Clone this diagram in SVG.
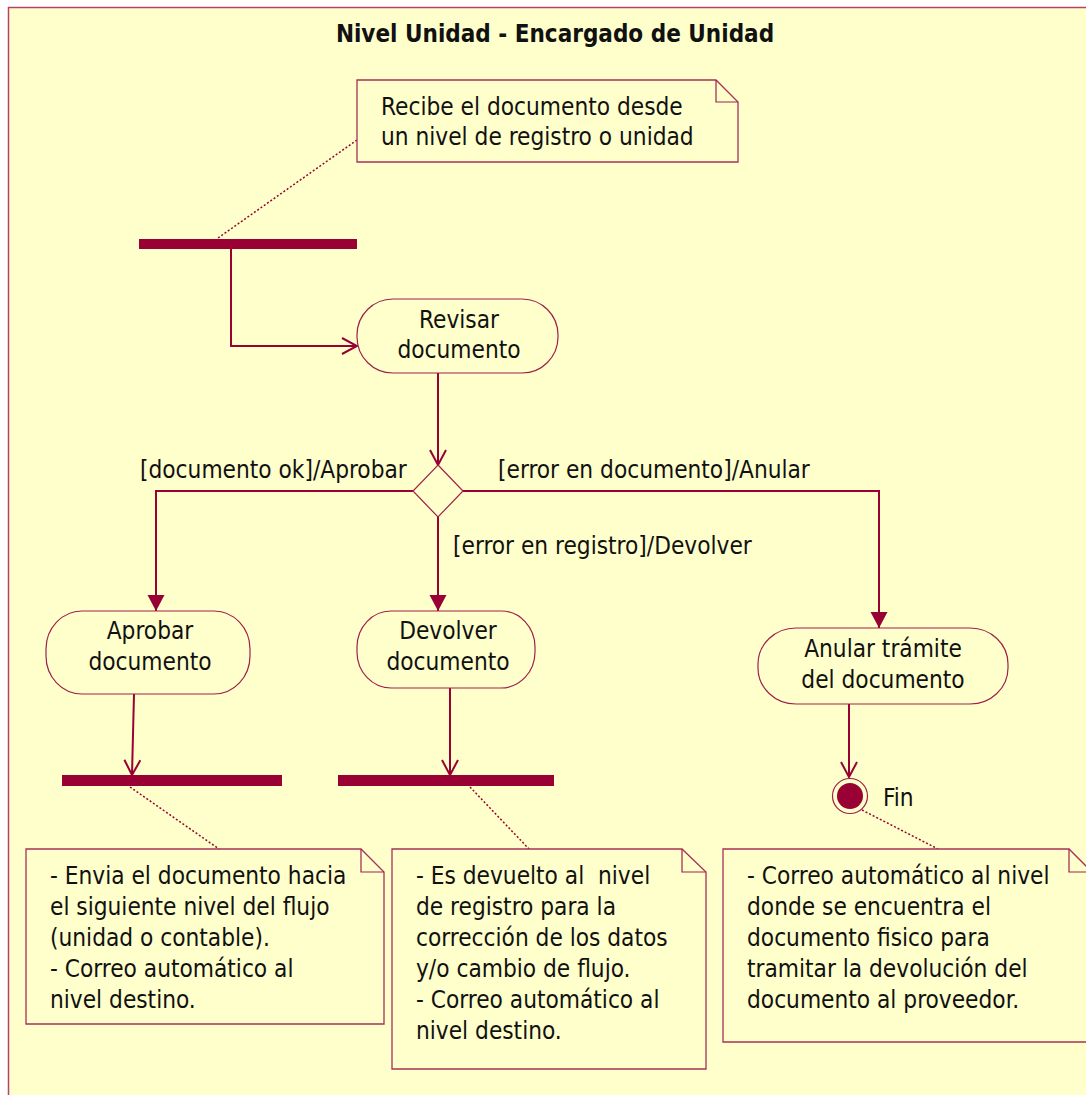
<svg xmlns="http://www.w3.org/2000/svg" width="1086" height="1095" viewBox="0 0 1086 1095">
  <defs>
    <style>
      text { font-family: "DejaVu Sans Condensed", "DejaVu Sans", sans-serif; font-stretch: condensed; font-size: 24.2px; fill: #111; }
      .title { font-weight: bold; font-size: 24px; text-anchor: middle; }
      .mid { text-anchor: middle; }
      .frame { fill: #FFFFCC; stroke: #B8406A; stroke-width: 1.5; }
      .node { fill: #FFFFCC; stroke: #A0204C; stroke-width: 1.2; }
      .note { fill: #FFFFCC; stroke: #A8305A; stroke-width: 1.3; }
      .fold { fill: none; stroke: #A0204C; stroke-width: 1.2; }
      .bar { fill: #990033; }
      .flow { fill: none; stroke: #990033; stroke-width: 2; }
      .link { fill: none; stroke: #990033; stroke-width: 1.5; stroke-dasharray: 2 2; }
    </style>
    <marker id="open" markerUnits="userSpaceOnUse" markerWidth="18" markerHeight="18" viewBox="0 0 18 18" refX="16" refY="9" orient="auto">
      <path d="M1,1 L16,9 L1,17" fill="none" stroke="#990033" stroke-width="2"/>
    </marker>
    <marker id="solid" markerUnits="userSpaceOnUse" markerWidth="18" markerHeight="18" viewBox="0 0 18 18" refX="17" refY="9" orient="auto">
      <path d="M1,0.5 L17,9 L1,17.5 Z" fill="#990033"/>
    </marker>
  </defs>

  <rect width="1086" height="1095" fill="#FFFFFF"/>
  <!-- swimlane frame -->
  <rect class="frame" x="8.5" y="7.5" width="1100" height="1110"/>
  <text class="title" x="555" y="42">Nivel Unidad - Encargado de Unidad</text>

  <!-- connectors -->
  <g id="connectors">
    <path class="flow" d="M231,249 V346 H357" marker-end="url(#open)"/>
    <path class="flow" d="M438,373 V465" marker-end="url(#open)"/>
    <path class="flow" d="M413,491 H156 V611" marker-end="url(#solid)"/>
    <path class="flow" d="M438,517 V611" marker-end="url(#solid)"/>
    <path class="flow" d="M463,491 H879 V628" marker-end="url(#solid)"/>
    <path class="flow" d="M134,694 L132,775" marker-end="url(#open)"/>
    <path class="flow" d="M450,688 V775" marker-end="url(#open)"/>
    <path class="flow" d="M849,704 V777" marker-end="url(#open)"/>
    <path class="link" d="M357,140 L218,238"/>
    <path class="link" d="M130,787 L219,849"/>
    <path class="link" d="M470,787 L529,849"/>
    <path class="link" d="M862,810 L938,849"/>
    <text x="140" y="478">[documento ok]/Aprobar</text>
    <text x="498" y="478">[error en documento]/Anular</text>
    <text x="453" y="554">[error en registro]/Devolver</text>
  </g>

  <g id="note-recibe">
    <path class="note" d="M357,80 H716 L738,102 V162 H357 Z"/>
    <path class="fold" d="M716,80 V102 H738"/>
    <text x="381" y="115">Recibe el documento desde</text>
    <text x="381" y="145">un nivel de registro o unidad</text>
  </g>

  <g id="fork-entrada">
    <rect class="bar" x="139" y="239" width="218" height="10"/>
  </g>

  <g id="revisar">
    <rect class="node" x="357" y="299" width="201" height="74" rx="36" ry="36"/>
    <text class="mid" x="459" y="328">Revisar</text>
    <text class="mid" x="459" y="358">documento</text>
  </g>

  <g id="decision">
    <path class="node" d="M438,465 L463,491 L438,517 L413,491 Z"/>
  </g>

  <g id="aprobar">
    <rect class="node" x="46" y="611" width="204" height="83" rx="36" ry="38"/>
    <text class="mid" x="150" y="639">Aprobar</text>
    <text class="mid" x="150" y="670">documento</text>
  </g>

  <g id="devolver">
    <rect class="node" x="357" y="611" width="178" height="77" rx="34" ry="36"/>
    <text class="mid" x="448" y="639">Devolver</text>
    <text class="mid" x="448" y="670">documento</text>
  </g>

  <g id="anular">
    <rect class="node" x="758" y="628" width="250" height="76" rx="38" ry="36"/>
    <text class="mid" x="883" y="657">Anular trámite</text>
    <text class="mid" x="883" y="688">del documento</text>
  </g>

  <g id="join-aprobar">
    <rect class="bar" x="62" y="775" width="220" height="11"/>
  </g>

  <g id="join-devolver">
    <rect class="bar" x="338" y="775" width="216" height="11"/>
  </g>

  <g id="fin">
    <circle cx="850" cy="796" r="17.5" fill="#FFFFCC" stroke="#A0204C" stroke-width="1.2"/>
    <circle cx="850" cy="796" r="13" fill="#990033"/>
    <text x="883" y="806">Fin</text>
  </g>

  <g id="note-aprobar">
    <path class="note" d="M26,849 H361 L384,872 V1024 H26 Z"/>
    <path class="fold" d="M361,849 V872 H384"/>
    <text x="50" y="884">- Envia el documento hacia</text>
    <text x="50" y="915">el siguiente nivel del flujo</text>
    <text x="50" y="946">(unidad o contable).</text>
    <text x="50" y="977">- Correo automático al</text>
    <text x="50" y="1008">nivel destino.</text>
  </g>

  <g id="note-devolver">
    <path class="note" d="M392,849 H682 L706,872 V1069 H392 Z"/>
    <path class="fold" d="M682,849 V872 H706"/>
    <text x="416" y="884" xml:space="preserve">- Es devuelto al  nivel</text>
    <text x="416" y="915">de registro para la</text>
    <text x="416" y="946">corrección de los datos</text>
    <text x="416" y="977">y/o cambio de flujo.</text>
    <text x="416" y="1008">- Correo automático al</text>
    <text x="416" y="1039">nivel destino.</text>
  </g>

  <g id="note-anular">
    <path class="note" d="M723,849 H1069 L1092,872 V1042 H723 Z"/>
    <path class="fold" d="M1069,849 V872 H1092"/>
    <text x="747" y="884">- Correo automático al nivel</text>
    <text x="747" y="915">donde se encuentra el</text>
    <text x="747" y="946">documento fisico para</text>
    <text x="747" y="977">tramitar la devolución del</text>
    <text x="747" y="1008">documento al proveedor.</text>
  </g>
</svg>
